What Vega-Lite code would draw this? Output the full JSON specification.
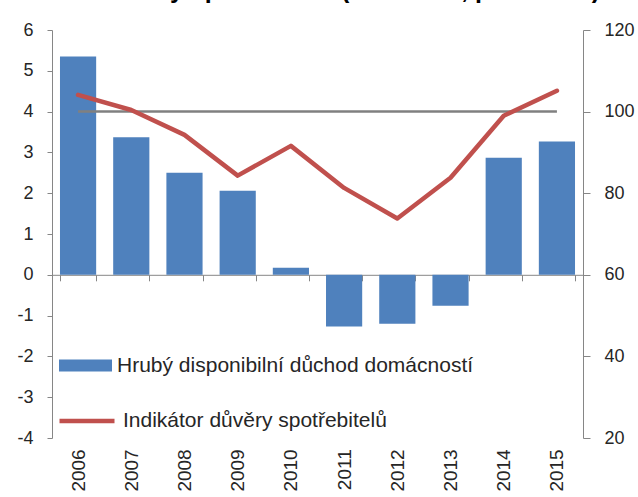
{
  "$schema": "https://vega.github.io/schema/vega-lite/v6.json",
  "width": 531,
  "height": 408,
  "autosize": {"type": "none"},
  "padding": {"left": 52, "top": 30, "right": 55, "bottom": 59},
  "title": {
    "text": "důvěry spotřebitelů (2005=100, pravá osa)",
    "anchor": "start",
    "frame": "group",
    "dx": 50,
    "dy": 2,
    "fontSize": 25,
    "fontWeight": "bold",
    "font": "Liberation Sans",
    "color": "#000000",
    "baseline": "alphabetic",
    "offset": 0
  },
  "data": {
    "values": [
      {"year": "2006", "gdi": 5.35, "conf": 104.1},
      {"year": "2007", "gdi": 3.37, "conf": 100.4},
      {"year": "2008", "gdi": 2.5, "conf": 94.3},
      {"year": "2009", "gdi": 2.06, "conf": 84.3},
      {"year": "2010", "gdi": 0.17, "conf": 91.6},
      {"year": "2011", "gdi": -1.27, "conf": 81.3},
      {"year": "2012", "gdi": -1.2, "conf": 73.8},
      {"year": "2013", "gdi": -0.76, "conf": 83.8},
      {"year": "2014", "gdi": 2.87, "conf": 99.0},
      {"year": "2015", "gdi": 3.27, "conf": 105.1}
    ]
  },
  "layer": [
    {
      "mark": {"type": "bar"},
      "encoding": {
        "x": {
          "field": "year",
          "type": "ordinal",
          "scale": {"paddingInner": 0.32, "paddingOuter": 0.15},
          "axis": {
            "title": null,
            "labelAngle": -90,
            "offset": -163.2,
            "labelPadding": 168,
            "tickBand": "extent",
            "tickSize": 6,
            "domainColor": "#868686",
            "tickColor": "#868686",
            "labelFontSize": 19
          }
        },
        "y": {
          "field": "gdi",
          "type": "quantitative",
          "scale": {"domain": [-4, 6], "nice": false},
          "axis": {
            "title": null,
            "orient": "left",
            "values": [-4, -3, -2, -1, 0, 1, 2, 3, 4, 5, 6],
            "labelExpr": "replace(datum.label, '−', '-')",
            "tickSize": 5,
            "labelPadding": 14,
            "labelFontSize": 18,
            "domainColor": "#868686",
            "tickColor": "#868686"
          }
        },
        "fill": {
          "datum": "Hrubý disponibilní důchod domácností",
          "scale": {"range": ["#4F81BD"]},
          "legend": {
            "orient": "none",
            "legendX": 7,
            "legendY": 309,
            "title": null,
            "padding": 0,
            "symbolType": "M-1,-0.226H1V0.226H-1Z",
            "symbolSize": 2809,
            "symbolStrokeWidth": 0,
            "labelFontSize": 21,
            "labelOffset": 5,
            "labelLimit": 600,
            "labelColor": "#262626"
          }
        }
      }
    },
    {
      "layer": [
        {
          "mark": {"type": "line", "color": "#808080", "strokeWidth": 2.5},
          "encoding": {
            "x": {"field": "year", "type": "ordinal"},
            "y": {"datum": 100, "type": "quantitative", "title": null, "scale": {"domain": [20, 120], "nice": false}}
          }
        },
        {
          "mark": {"type": "line", "strokeWidth": 4.5, "strokeJoin": "round", "strokeCap": "round"},
          "encoding": {
            "x": {"field": "year", "type": "ordinal"},
            "y": {
              "field": "conf",
              "type": "quantitative",
              "scale": {"domain": [20, 120], "nice": false},
              "axis": {
                "title": null,
                "orient": "right",
                "values": [20, 40, 60, 80, 100, 120],
                "tickSize": 7,
                "labelPadding": 14,
                "labelFontSize": 18,
                "domainColor": "#868686",
                "tickColor": "#868686"
              }
            },
            "stroke": {
              "datum": "Indikátor důvěry spotřebitelů",
              "scale": {"range": ["#C0504D"]},
              "legend": {
                "orient": "none",
                "legendX": 5,
                "legendY": 361,
                "title": null,
                "padding": 0,
                "symbolType": "stroke",
                "symbolSize": 3025,
                "symbolStrokeWidth": 4.5,
                "labelFontSize": 21,
                "labelOffset": 6,
                "labelLimit": 600,
                "labelColor": "#262626"
              }
            }
          }
        }
      ]
    }
  ],
  "resolve": {"scale": {"y": "independent"}},
  "config": {
    "font": "Liberation Sans",
    "view": {"stroke": null},
    "axis": {"labelColor": "#262626", "grid": false}
  }
}
